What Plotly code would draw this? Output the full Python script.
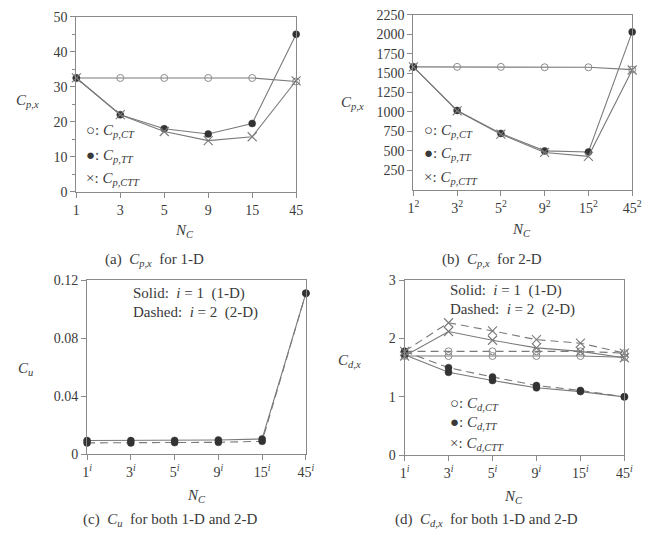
import plotly.graph_objects as go

W, H = 649, 539

# ---------------- data ----------------
nc_labels = ["1", "3", "5", "9", "15", "45"]

# (a) 1-D
cp1_ct = [32.5, 32.5, 32.5, 32.5, 32.5, 31.5]
cp1_tt = [32.5, 22.0, 18.0, 16.5, 19.5, 45.0]
cp1_ctt = [32.5, 22.0, 17.2, 14.6, 15.7, 31.7]

# (b) 2-D
cp2_ct = [1580, 1580, 1580, 1575, 1575, 1545]
cp2_tt = [1580, 1020, 725, 500, 485, 2030]
cp2_ctt = [1580, 1015, 715, 480, 430, 1540]

# (c) Cu
cu_1d = [0.0094, 0.0094, 0.0095, 0.0098, 0.0105, 0.111]
cu_2d = [0.0078, 0.0078, 0.0080, 0.0082, 0.0089, 0.111]

# (d) Cd,x
cd_ct_1d = [1.70, 1.70, 1.70, 1.70, 1.70, 1.68]
cd_ct_2d = [1.78, 1.78, 1.78, 1.78, 1.78, 1.75]
cd_tt_1d = [1.72, 1.42, 1.28, 1.155, 1.09, 1.00]
cd_tt_2d = [1.78, 1.50, 1.34, 1.195, 1.11, 1.00]
cd_ctt_1d = [1.70, 2.12, 1.97, 1.84, 1.78, 1.67]
cd_ctt_2d = [1.78, 2.27, 2.13, 1.98, 1.92, 1.75]

xs = list(range(len(nc_labels)))

LINE = "#7a7a7a"
AX = "#8a8a8a"
TXT = "#3a3a3a"
FONT = "Liberation Serif"

fig = go.Figure()


def dom_x(x0, x1):
    return [x0 / W, x1 / W]


def dom_y(y_top, y_bot):
    return [1 - y_bot / H, 1 - y_top / H]


def add(xa, ya, y, kind, dash="solid"):
    if kind == "ct":
        marker = dict(symbol="circle-open", size=7, color="#8c8c8c", line=dict(width=1, color="#8c8c8c"))
    elif kind == "tt":
        marker = dict(symbol="circle", size=7, color="#333333", line=dict(width=0.5, color="#333333"))
    else:
        marker = dict(symbol="x-thin-open", size=9, color="#7a7a7a", line=dict(width=1.1, color="#7a7a7a"))
    fig.add_trace(go.Scatter(x=xs, y=y, xaxis=xa, yaxis=ya, mode="lines+markers",
                             line=dict(color=LINE, width=1.1, dash=dash),
                             marker=marker, cliponaxis=False, showlegend=False,
                             hoverinfo="skip"))


add("x", "y", cp1_ct, "ct")
add("x", "y", cp1_tt, "tt")
add("x", "y", cp1_ctt, "ctt")

add("x2", "y2", cp2_ct, "ct")
add("x2", "y2", cp2_tt, "tt")
add("x2", "y2", cp2_ctt, "ctt")

add("x3", "y3", cu_2d, "tt", dash="8px,5px")
add("x3", "y3", cu_1d, "tt")

add("x4", "y4", cd_ct_2d, "ct", dash="8px,5px")
add("x4", "y4", cd_ct_1d, "ct")
add("x4", "y4", cd_tt_2d, "tt", dash="8px,5px")
add("x4", "y4", cd_tt_1d, "tt")
add("x4", "y4", cd_ctt_2d, "ctt", dash="8px,5px")
add("x4", "y4", cd_ctt_1d, "ctt")

tickfont = dict(family=FONT, size=14, color=TXT)


def xaxis(domain, anchor, ticktext):
    return dict(domain=domain, anchor=anchor, range=[0, 5], tickvals=xs, ticktext=ticktext,
                showgrid=False, zeroline=False, showline=True, linecolor=AX, linewidth=1,
                mirror=True, ticks="outside", ticklen=5, tickcolor=AX, tickfont=tickfont)


def yaxis(domain, anchor, rng, tickvals, ticktext, minor=None):
    d = dict(domain=domain, anchor=anchor, range=rng, tickvals=tickvals, ticktext=ticktext,
             showgrid=False, zeroline=False, showline=True, linecolor=AX, linewidth=1,
             mirror=True, ticks="outside", ticklen=5, tickcolor=AX, tickfont=tickfont)
    if minor is not None:
        d["minor"] = dict(tickvals=minor, ticks="outside", ticklen=3, tickcolor=AX, showgrid=False)
    return d


lab1 = nc_labels
lab2 = [f"{v}<sup>2</sup>" for v in nc_labels]
labi = [f"{v}<sup><i>i</i></sup>" for v in nc_labels]

fig.update_layout(
    width=W, height=H, margin=dict(l=0, r=0, t=0, b=0),
    paper_bgcolor="white", plot_bgcolor="white",
    xaxis=xaxis(dom_x(72, 297), "y", lab1),
    yaxis=yaxis(dom_y(10, 190), "x", [0, 50], [0, 10, 20, 30, 40, 50],
                ["0", "10", "20", "30", "40", "50"], minor=[5, 15, 25, 35, 45]),
    xaxis2=xaxis(dom_x(417, 641), "y2", lab2),
    yaxis2=yaxis(dom_y(8, 188), "x2", [0, 2250], list(range(250, 2251, 250)),
                 [str(v) for v in range(250, 2251, 250)]),
    xaxis3=xaxis(dom_x(83, 307), "y3", labi),
    yaxis3=yaxis(dom_y(281, 460), "x3", [0, 0.12], [0, 0.04, 0.08, 0.12],
                 ["0", "0.04", "0.08", "0.12"]),
    xaxis4=xaxis(dom_x(408, 633), "y4", labi),
    yaxis4=yaxis(dom_y(281, 461), "x4", [0, 3], [0, 1, 2, 3], ["0", "1", "2", "3"]),
)

ann = []


def txt(x, y, s, size=15, xanchor="center"):
    ann.append(dict(x=x / W, y=1 - y / H, xref="paper", yref="paper", text=s, showarrow=False,
                    xanchor=xanchor, yanchor="middle",
                    font=dict(family=FONT, size=size, color=TXT)))


# axis titles
txt(22, 97, "<i>C</i><sub><i>p,x</i></sub>")
txt(355, 99, "<i>C</i><sub><i>p,x</i></sub>")
txt(20, 372, "<i>C</i><sub><i>u</i></sub>")
txt(352, 364, "<i>C</i><sub><i>d,x</i></sub>")
txt(183, 230, "<i>N</i><sub><i>C</i></sub>")
txt(528, 229, "<i>N</i><sub><i>C</i></sub>")
txt(195, 503, "<i>N</i><sub><i>C</i></sub>")
txt(520, 504, "<i>N</i><sub><i>C</i></sub>")

# captions
txt(152, 260, "(a)  <i>C</i><sub><i>p,x</i></sub>  for 1-D", size=15)
txt(498, 260, "(b)  <i>C</i><sub><i>p,x</i></sub>  for 2-D", size=15)
txt(168, 528, "(c)  <i>C</i><sub><i>u</i></sub>  for both 1-D and 2-D", size=15)
txt(492, 528, "(d)  <i>C</i><sub><i>d,x</i></sub>  for both 1-D and 2-D", size=15)

# in-plot legends
def legend(x, ys, sub):
    syms = ["○", "●", "×"]
    subs = [sub + ",<i>CT</i>", sub + ",<i>TT</i>", sub + ",<i>CTT</i>"]
    for s, y, sb in zip(syms, ys, subs):
        txt(x, y, f"{s}: <i>C</i><sub>{sb}</sub>", size=15, xanchor="left")


legend(80, [128, 153, 177], "<i>p</i>")
legend(426, [128, 151, 176], "<i>p</i>")
legend(452, [408, 428, 449], "<i>d</i>")

txt(128, 295, "Solid:  <i>i</i> = 1  (1-D)", size=15, xanchor="left")
txt(128, 314, "Dashed:  <i>i</i> = 2  (2-D)", size=15, xanchor="left")
txt(452, 292, "Solid:  <i>i</i> = 1  (1-D)", size=15, xanchor="left")
txt(452, 311, "Dashed:  <i>i</i> = 2  (2-D)", size=15, xanchor="left")

fig.update_layout(annotations=ann)

fig.write_html("out.html")
